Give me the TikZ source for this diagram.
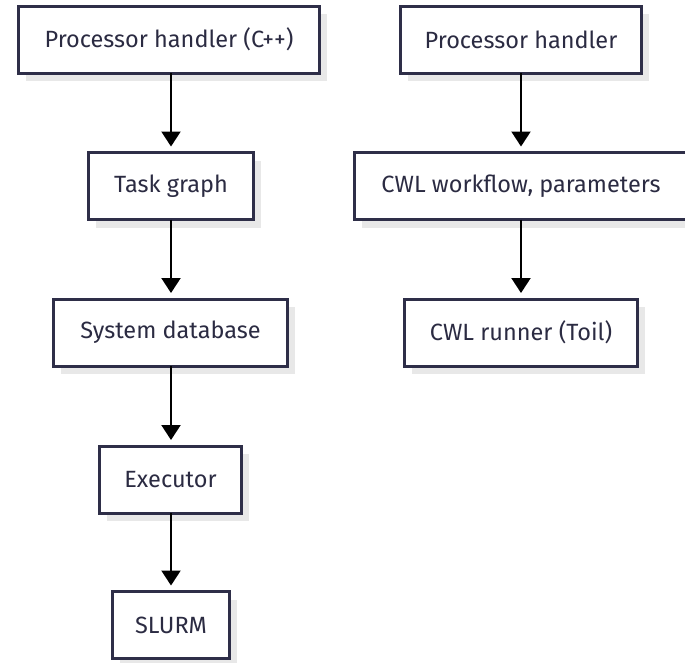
\documentclass[tikz,border=0pt]{standalone}
\usepackage{fontspec}
\setmainfont{Fira Sans}
\usetikzlibrary{arrows.meta,shadows}
\definecolor{ink}{HTML}{2B2B42}
\definecolor{edge}{HTML}{2E2E48}
\definecolor{shade}{HTML}{E8E8E8}
\begin{document}
\begin{tikzpicture}[x=1pt,y=-1pt,
  box/.style={draw=edge, line width=3pt, fill=white, text=ink,
    font=\fontsize{23.5}{28}\selectfont, inner sep=0pt, outer sep=0pt,
    minimum height=67pt,
    drop shadow={shadow xshift=7pt, shadow yshift=-8pt, fill=shade, opacity=1}},
  flow/.style={draw=black, line width=2.2pt, shorten >=6pt,
    -{Triangle[width=19pt,length=15pt]}}]
  \useasboundingbox (0,0) rectangle (685,662);
  \clip (0,0) rectangle (685,662);

  % left chain: C++ processor handler down to SLURM
  \node[box, minimum width=301pt] (ph)   at (169,39.5) {Processor handler (C++)};
  \node[box, minimum width=165pt] (tg)   at (171,186)  {Task graph};
  \node[box, minimum width=234pt] (sdb)  at (170.5,332.5) {System database};
  \node[box, minimum width=142pt] (ex)   at (170.5,479.5) {Executor};
  \node[box, minimum width=117pt] (sl)   at (171,625)  {SLURM};

  % right chain: CWL-based processing
  \node[box, minimum width=241pt] (ph2)  at (521,39.5)  {Processor handler};
  \node[box, minimum width=333pt] (cwf)  at (521,186)   {CWL workflow, parameters};
  \node[box, minimum width=233pt] (cwr)  at (521,332.5) {CWL runner (Toil)};

  \draw[flow] (ph.south -| tg.north) -- (tg.north);
  \draw[flow] (tg.south) -- (sdb.north -| tg.south);
  \draw[flow] (sdb.south -| tg.south) -- (ex.north -| tg.south);
  \draw[flow] (ex.south -| tg.south) -- (sl.north -| tg.south);

  \draw[flow] (ph2.south) -- (cwf.north);
  \draw[flow] (cwf.south) -- (cwr.north);
\end{tikzpicture}
\end{document}
